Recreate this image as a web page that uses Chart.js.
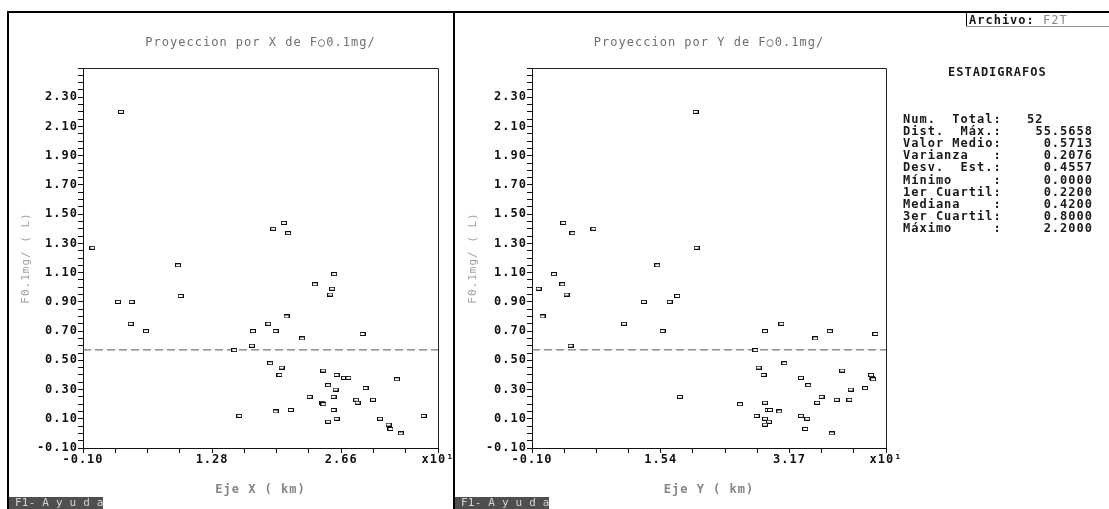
<!DOCTYPE html>
<html>
<head>
<meta charset="utf-8">
<script src="https://cdn.jsdelivr.net/npm/chart.js@4.4.1/dist/chart.umd.min.js"></script>
<style>
  html, body { margin: 0; padding: 0; background: #fff; }
  #pantalla {
    position: relative; width: 1109px; height: 509px; overflow: hidden; background: #fff;
    font-family: "DejaVu Sans Mono", "Liberation Mono", monospace;
  }
  #pantalla canvas { position: absolute; top: 0; }
  .raya { position: absolute; background: #000; }
  .txt {
    position: absolute; white-space: pre; font-size: 12px; font-weight: bold;
    letter-spacing: 1px; line-height: 12px; color: #1a1a1a;
  }
  .ayuda {
    position: absolute; top: 497px; height: 12px; width: 88px; padding-left: 6px;
    background: #4f4f4f; color: #d4d4d4; font-size: 11px; line-height: 12px;
    letter-spacing: 0.2px; white-space: pre;
  }
</style>
</head>
<body>
<div id="pantalla">
  <canvas id="proyX" width="454" height="509" style="left:0"></canvas>
  <canvas id="proyY" width="454" height="509" style="left:454px"></canvas>

  <div class="raya" style="left:7px; top:11px; width:1102px; height:2px"></div>
  <div class="raya" style="left:7px; top:11px; width:2px; height:498px"></div>
  <div class="raya" style="left:453px; top:11px; width:2px; height:498px"></div>

  <div class="raya" style="left:966px; top:12px; width:1px; height:15px"></div>
  <div class="raya" style="left:966px; top:26px; width:143px; height:1px; background:#9a9a9a"></div>
  <div class="txt" style="left:969px; top:14px">Archivo: <span style="color:#8a8a8a;font-weight:normal">F2T</span></div>

  <div class="txt" style="left:948px; top:66px">ESTADIGRAFOS</div>
  <div id="estadisticos"></div>

  <div class="ayuda" style="left:9px">F1- A y u d a</div>
  <div class="ayuda" style="left:455px">F1- A y u d a</div>
</div>

<script>
// Muestras: coordenada X e Y (x10 km) y concentracion medida
const coordX = [0.306, 2.047, 1.933, 2.093, 0.0, 0.915, 2.585, 2.379, 2.563, 2.542,
                0.944, 0.274, 0.42, 2.076, 0.41, 1.88, 0.573, 1.716, 1.959, 2.888,
                2.243, 1.705, 1.517, 1.90, 2.023, 2.467, 2.0, 2.61, 2.69, 2.738,
                3.255, 2.52, 2.92, 2.6, 2.322, 2.578, 2.82, 3.0, 2.835, 2.46,
                2.47, 2.122, 2.578, 1.959, 1.57, 3.54, 2.61, 3.076, 2.52, 3.166,
                3.187, 3.297];
const coordY = [1.976, 0.296, 0.68, 0.414, 1.989, 1.49, 0.178, 0.284, -0.016, 0.338,
                1.743, 1.32, 1.647, 0.034, 1.068, 3.065, 1.558, 2.857, 3.68, 4.258,
                3.495, 0.389, 2.735, 3.103, 2.777, 3.837, 2.84, 4.204, 3.313, 4.21,
                4.23, 3.406, 4.128, 3.946, 1.777, 3.575, 3.768, 3.929, 3.52, 2.857,
                2.54, 2.89, 2.92, 3.039, 2.752, 3.313, 2.857, 3.394, 2.909, 2.857,
                3.368, 3.705];
const concentracion = [2.20, 1.44, 1.40, 1.37, 1.27, 1.15, 1.09, 1.02, 0.99, 0.95,
                       0.94, 0.90, 0.90, 0.80, 0.75, 0.75, 0.70, 0.70, 0.70, 0.68,
                       0.65, 0.60, 0.57, 0.48, 0.45, 0.43, 0.40, 0.40, 0.38, 0.38,
                       0.37, 0.33, 0.31, 0.30, 0.25, 0.25, 0.23, 0.23, 0.21, 0.21,
                       0.20, 0.16, 0.16, 0.15, 0.12, 0.12, 0.10, 0.10, 0.08, 0.06,
                       0.03, 0.00];

// etiquetas de los ejes
const etiquetasX = ['-0.10', '1.28', '2.66'];
const etiquetasY = ['-0.10', '1.54', '3.17'];
const etiquetasConc = ['-0.10', '0.10', '0.30', '0.50', '0.70', '0.90', '1.10',
                       '1.30', '1.50', '1.70', '1.90', '2.10', '2.30'];
const factorEje = 'x10\u00B9';

// estadigrafos
const nombresEst = ['Num.  Total:', 'Dist.  M\u00E1x.:', 'Valor Medio:', 'Varianza   :',
                    'Desv.  Est.:', 'M\u00EDnimo     :', '1er Cuartil:', 'Mediana    :',
                    '3er Cuartil:', 'M\u00E1ximo     :'];
const valoresEst = ['52', '55.5658', '0.5713', '0.2076', '0.4557', '0.0000',
                    '0.2200', '0.4200', '0.8000', '2.2000'];
const valorMedio = parseFloat(valoresEst[2]);

const caja = document.getElementById('estadisticos');
nombresEst.forEach((n, i) => {
  const top = 113 + i * 12.1;
  const a = document.createElement('div');
  a.className = 'txt';
  a.style.left = '903px'; a.style.top = top + 'px';
  a.textContent = n;
  caja.appendChild(a);
  const b = document.createElement('div');
  b.className = 'txt';
  b.style.top = top + 'px';
  if (i === 0) { b.style.left = '1027px'; }
  else { b.style.left = '1000px'; b.style.width = '93px'; b.style.textAlign = 'right'; }
  b.textContent = valoresEst[i];
  caja.appendChild(b);
});

// marcador rectangular de cada muestra
function cajita() {
  const c = document.createElement('canvas');
  c.width = 6; c.height = 4;
  const g = c.getContext('2d');
  g.fillStyle = '#fff'; g.fillRect(0, 0, 6, 4);
  g.strokeStyle = '#111'; g.lineWidth = 1; g.strokeRect(0.5, 0.5, 5, 3);
  return c;
}
const marcador = cajita();

const fuente = { family: '"DejaVu Sans Mono", monospace', size: 12 };

const marco = {
  id: 'marco',
  beforeUpdate(chart) { chart.ctx.letterSpacing = '1px'; },
  beforeDraw(chart) { chart.ctx.letterSpacing = '1px'; },
  afterDraw(chart) {
    const { ctx, chartArea: a } = chart;
    ctx.save();
    ctx.strokeStyle = '#222';
    ctx.lineWidth = 1;
    ctx.beginPath();
    ctx.moveTo(a.left, a.top + 0.5);
    ctx.lineTo(a.right + 0.5, a.top + 0.5);
    ctx.lineTo(a.right + 0.5, a.bottom);
    ctx.stroke();
    ctx.restore();
  }
};

function panel(id, xs, paso, etiquetas, titulo, tituloX, anchoY, margenDer, posTituloY) {
  const xMin = -0.1;
  const xMax = xMin + 11 * paso;
  new Chart(document.getElementById(id), {
    type: 'scatter',
    data: {
      datasets: [
        {
          data: xs.map((x, i) => ({ x, y: concentracion[i] })),
          pointStyle: marcador,
          pointRadius: 3,
          pointHoverRadius: 3
        },
        {
          type: 'line',
          data: [{ x: xMin, y: valorMedio }, { x: xMax, y: valorMedio }],
          borderColor: '#555',
          borderWidth: 1,
          borderDash: [8, 4],
          pointRadius: 0
        }
      ]
    },
    options: {
      responsive: false,
      animation: false,
      devicePixelRatio: 1,
      layout: { padding: { left: 0, right: margenDer, top: 0, bottom: 0 } },
      plugins: {
        legend: { display: false },
        tooltip: { enabled: false },
        title: {
          display: true, text: titulo, fullSize: false,
          color: '#6e6e6e', font: { ...fuente, weight: 'normal' },
          padding: { top: 35.8, bottom: 17.8 }
        }
      },
      scales: {
        x: {
          type: 'linear', min: xMin, max: xMax,
          ticks: {
            stepSize: paso, autoSkip: false, maxRotation: 0, padding: 0,
            color: '#111', font: { ...fuente, weight: 'bold' },
            callback: (v, i) => i === 11 ? factorEje : (i % 4 === 0 ? etiquetas[i / 4] : '')
          },
          grid: { drawOnChartArea: false, tickLength: 5, color: '#111' },
          border: { color: '#111', width: 1 },
          title: {
            display: true, text: tituloX, color: '#858585',
            font: { ...fuente, weight: 'bold' }, padding: { top: 0, bottom: 11.8 }
          },
          afterFit: s => { s.height = 61; s.paddingLeft = 0; s.paddingRight = 0; }
        },
        y: {
          type: 'linear', min: -0.1, max: 2.5,
          ticks: {
            stepSize: 0.05, autoSkip: false, padding: 0,
            color: '#111', font: { ...fuente, weight: 'bold' },
            callback: (v, i) => (i % 4 === 0 && i / 4 < etiquetasConc.length) ? etiquetasConc[i / 4] : ''
          },
          grid: { drawOnChartArea: false, tickLength: 5, color: '#111' },
          border: { color: '#111', width: 1 },
          title: {
            display: true, text: 'F0.1mg/ ( L)', color: '#a0a0a0',
            font: { ...fuente, size: 11, weight: 'normal' },
            padding: { top: posTituloY, bottom: 0 }
          },
          afterFit: s => { s.width = anchoY; s.paddingTop = 0; s.paddingBottom = 0; }
        }
      }
    },
    plugins: [marco]
  });
}

panel('proyX', coordX, 0.345, etiquetasX, 'Proyeccion por X de F\u25CB0.1mg/', 'Eje X ( km)', 83, 16, 19.4);
panel('proyY', coordY, 0.4085, etiquetasY, 'Proyeccion por Y de F\u25CB0.1mg/', 'Eje Y ( km)', 78, 22, 12.4);
</script>
</body>
</html>
